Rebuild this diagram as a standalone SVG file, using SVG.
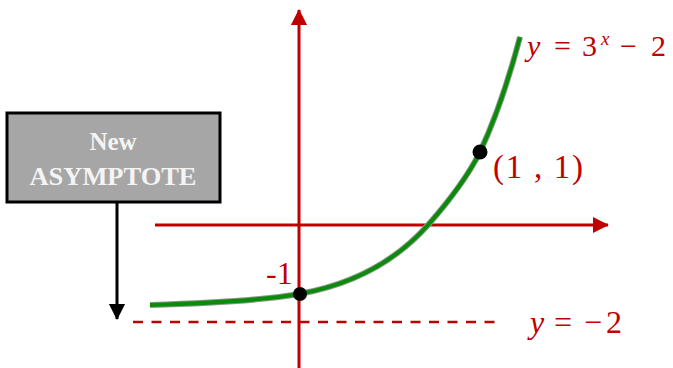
<svg xmlns="http://www.w3.org/2000/svg" width="673" height="368" viewBox="0 0 673 368">
<style>
.ax{stroke:#c00000;stroke-width:3;fill:none}
.red{fill:#c00000;font-family:"Liberation Serif","Times New Roman",serif}
.it{font-style:italic}
.dot{fill:#000}
.bx{font-family:"Liberation Serif","Times New Roman",serif;font-weight:bold;fill:#f4f4f4}
</style>
<defs>
<marker id="ra" markerWidth="6" markerHeight="6" refX="5" refY="3" orient="auto" markerUnits="strokeWidth">
<path d="M0,0.3 L5.3,3 L0,5.7 Z" fill="#c00000"/>
</marker>
<marker id="ba" markerWidth="6" markerHeight="6" refX="5" refY="3" orient="auto" markerUnits="strokeWidth">
<path d="M0,0.3 L5.3,3 L0,5.7 Z" fill="#000"/>
</marker>
</defs>
<rect width="673" height="368" fill="#fff"/>
<g id="connectors">
<line class="ax" x1="299" y1="368" x2="299" y2="10" marker-end="url(#ra)"/>
<line class="ax" x1="155" y1="225" x2="608" y2="225" marker-end="url(#ra)"/>
<line x1="133" y1="322" x2="500" y2="322" stroke="#c00000" stroke-width="2.5" stroke-dasharray="10,8.5"/>
<line x1="117" y1="202" x2="117" y2="319" stroke="#000" stroke-width="3" marker-end="url(#ba)"/>
</g>
<g id="curve">
<path d="M150,305 C220,303 265,300 299,294 C350,285 395,262 428,225 C450,200 467,178 480,152 C495,120 510,75 520,37" fill="none" stroke="#8a9a8a" stroke-width="6"/>
<path d="M150,305 C220,303 265,300 299,294 C350,285 395,262 428,225 C450,200 467,178 480,152 C495,120 510,75 520,37" fill="none" stroke="#0b8a0b" stroke-width="4"/>
</g>
<g id="box">
<rect x="7" y="113" width="213" height="89" fill="#a6a6a6" stroke="#000" stroke-width="3"/>
<text class="bx" x="113" y="150" text-anchor="middle" font-size="25">New</text>
<text class="bx" x="113" y="185" text-anchor="middle" font-size="26" textLength="167" lengthAdjust="spacingAndGlyphs">ASYMPTOTE</text>
</g>
<g id="point-0">
<circle class="dot" cx="300" cy="294" r="7"/>
<text class="red" x="266" y="284" font-size="32">-1</text>
</g>
<g id="point-1">
<circle class="dot" cx="480" cy="152" r="7.5"/>
<text class="red" x="493" y="178" font-size="33" textLength="90" lengthAdjust="spacing">(1 , 1)</text>
</g>
<g id="label-curve">
<text class="red" font-size="30" y="56"><tspan class="it" x="527">y</tspan><tspan x="554">=</tspan><tspan x="582">3</tspan><tspan class="it" x="601" y="45" font-size="19">x</tspan><tspan x="620" y="56">−</tspan><tspan x="651">2</tspan></text>
</g>
<g id="label-asymptote">
<text class="red" font-size="32" y="333"><tspan class="it" x="530">y</tspan><tspan x="554">=</tspan><tspan x="584">−</tspan><tspan x="606">2</tspan></text>
</g>
</svg>
